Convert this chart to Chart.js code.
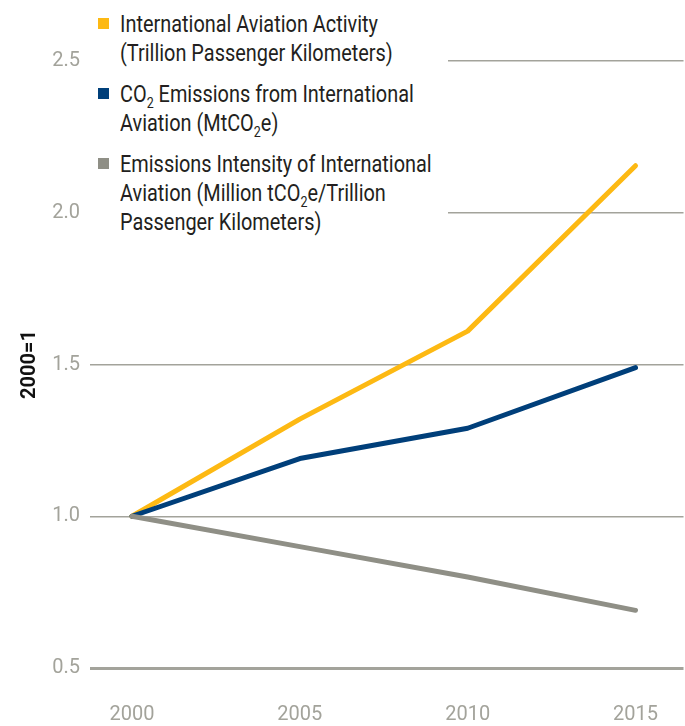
<!DOCTYPE html>
<html>
<head>
<meta charset="utf-8">
<script src="https://cdn.jsdelivr.net/npm/chart.js@4.4.0/dist/chart.umd.min.js"></script>
<style>
    html, body { margin: 0; padding: 0; background: #fff; }
    #wrap { position: relative; width: 685px; height: 726px; }
    #legend {
        position: absolute; left: 90px; top: 0; width: 358px; height: 240px;
        background: #fff; font-family: Roboto, sans-serif;
        font-size: 24px; color: #231f20; line-height: 29px;
    }
    .item { position: absolute; left: 30px; white-space: nowrap; }
    .item .sw { position: absolute; left: -22px; top: 8px; width: 11px; height: 11px; }
    .item .txt { display: block; transform-origin: 0 0; }
    sub { font-size: 15px; line-height: 0; vertical-align: -6px; }
</style>
</head>
<body>
<div id="wrap">
    <canvas id="line-chart" width="685" height="726"></canvas>
    <div id="legend"></div>
</div>
<script>
// data
const years = [2000, 2005, 2010, 2015];
const activity = [1.0, 1.32, 1.61, 2.155];
const emissions = [1.0, 1.19, 1.29, 1.49];
const intensity = [1.0, 0.90, 0.80, 0.69];
const yTicks = [0.5, 1.0, 1.5, 2.0, 2.5];

const seriesNames = [
    'International Aviation Activity<br>(Trillion Passenger Kilometers)',
    'CO<sub>2</sub> Emissions from International<br>Aviation (MtCO<sub>2</sub>e)',
    'Emissions Intensity of International<br>Aviation (Million tCO<sub>2</sub>e/Trillion<br>Passenger Kilometers)'
];
const seriesColors = ['#fdb913', '#003f7a', '#8f8f86'];
const legendTops = [10, 80, 150];

const tickFont = { family: "Roboto, sans-serif", size: 20 };
const tickColor = '#a3a39b';

function toPoints(vals) {
    return years.map((y, i) => ({ x: y, y: vals[i] }));
}

// html legend, text squeezed to look like the condensed face of the original
function buildLegend() {
    const legend = document.getElementById('legend');
    const probe = document.createElement('canvas').getContext('2d');
    probe.font = '24px Roboto';
    const squeeze = 258 / probe.measureText('International Aviation Activity').width;
    seriesNames.forEach((name, i) => {
        const item = document.createElement('div');
        item.className = 'item';
        item.style.top = legendTops[i] + 'px';
        item.innerHTML = '<span class="sw" style="background:' + seriesColors[i] + '"></span>' +
            '<span class="txt" style="transform:scaleX(' + squeeze + ')">' + name + '</span>';
        legend.appendChild(item);
    });
}

const datasets = [activity, emissions, intensity].map((vals, i) => ({
    data: toPoints(vals),
    borderColor: seriesColors[i],
    backgroundColor: seriesColors[i],
    borderWidth: 5,
    borderCapStyle: 'round',
    borderJoinStyle: 'round',
    pointRadius: 0,
    tension: 0
}));
// draw blue above yellow at the start point
datasets.reverse();

document.fonts.load('24px Roboto').then(function () {
    window.lineChart = new Chart(document.getElementById('line-chart').getContext('2d'), {
        type: 'line',
        data: { datasets: datasets },
        options: {
            responsive: false,
            animation: false,
            layout: { padding: { top: 61, right: 0, left: 0, bottom: 0 } },
            plugins: { legend: { display: false }, tooltip: { enabled: false } },
            scales: {
                x: {
                    type: 'linear',
                    min: 1998.75,
                    max: 2016.43,
                    afterBuildTicks: s => { s.ticks = years.map(v => ({ value: v })); },
                    afterFit: s => { s.height = 58; },
                    grid: { display: false },
                    border: { display: false },
                    ticks: { font: tickFont, color: tickColor, padding: 27, maxRotation: 0, callback: v => String(v) }
                },
                y: {
                    min: 0.5,
                    max: 2.5,
                    afterBuildTicks: s => { s.ticks = yTicks.map(v => ({ value: v })); },
                    afterFit: s => { s.width = 90; },
                    grid: {
                        drawTicks: false,
                        color: '#a3a39b',
                        lineWidth: ctx => ctx.tick && ctx.tick.value === 0.5 ? 3 : 1.5
                    },
                    border: { display: false },
                    ticks: { font: tickFont, color: tickColor, padding: 10, callback: v => v.toFixed(1) },
                    title: {
                        display: true,
                        text: '2000=1',
                        color: '#111',
                        font: { family: "Roboto, sans-serif", size: 20, weight: 'bold' },
                        padding: { top: 18, bottom: 0 }
                    }
                }
            }
        }
    });
    buildLegend();
});
</script>
</body>
</html>
